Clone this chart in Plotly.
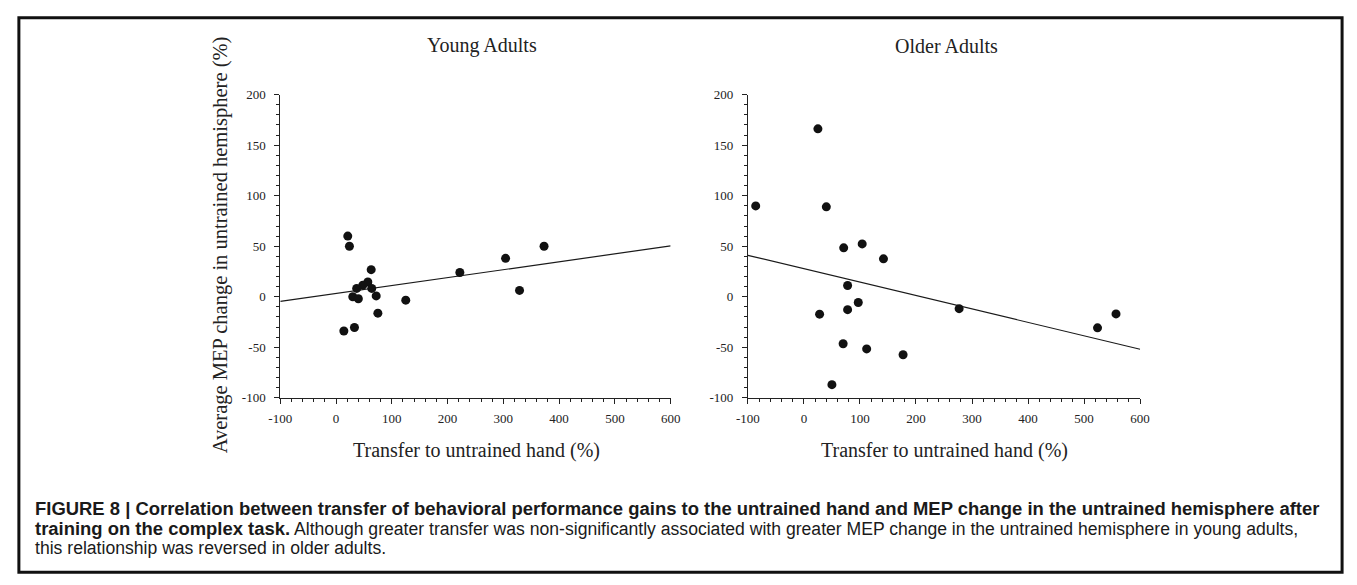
import plotly.graph_objects as go

W, H = 1357, 585

# ---------------- data ----------------
young_transfer = [21, 24, 63, 57, 48, 37, 64, 30, 40, 72, 125, 75, 33, 14, 222, 304, 329, 373]
young_mep = [60, 50, 26.8, 14.6, 11.4, 8.2, 8.2, 0, -2, 0.8, -3.4, -16.3, -30.5, -34, 24, 38, 6.2, 50]
young_fit_x = [-100, 600]
young_fit_y = [-4.7, 50.3]

older_transfer = [-86, 25, 40, 71, 104, 142, 78, 97, 78, 28, 70, 112, 177, 50, 277, 524, 557]
older_mep = [89.9, 166.2, 89, 48.4, 52.3, 37.5, 11.1, -5.7, -12.8, -17.3, -46.6, -51.7, -57.5, -87.1, -11.8, -30.8, -17]
older_fit_x = [-100, 600]
older_fit_y = [41, -52]

panel_titles = ["Young Adults", "Older Adults"]
x_title = "Transfer to untrained hand (%)"
y_title = "Average MEP change in untrained hemisphere (%)"
x_ticks = [-100, 0, 100, 200, 300, 400, 500, 600]
x_tick_text = ["-100", "0", "100", "200", "300", "400", "500", "600"]
y_ticks = [-100, -50, 0, 50, 100, 150, 200]
y_tick_text = ["-100", "-50", "0", "50", "100", "150", "200"]

B = '<span style="font-size:18.45px"><b>'
E = '</b></span>'
caption_lines = [
    B + "FIGURE 8 | Correlation between transfer of behavioral performance gains to the untrained hand and MEP change in the untrained hemisphere after" + E,
    B + "training on the complex task." + E + " Although greater transfer was non-significantly associated with greater MEP change in the untrained hemisphere in young adults,",
    "this relationship was reversed in older adults.",
]

# ---------------- helpers ----------------
def px(x):
    return x / W

def py(y):
    return 1 - y / H

serif = "Liberation Serif, Times New Roman, serif"
sans = "Liberation Sans, Arial, Helvetica, sans-serif"

fig = go.Figure()

for i, (xs, ys, fx, fy) in enumerate([
    (young_transfer, young_mep, young_fit_x, young_fit_y),
    (older_transfer, older_mep, older_fit_x, older_fit_y),
]):
    xa = "x" if i == 0 else "x2"
    ya = "y" if i == 0 else "y2"
    fig.add_trace(go.Scatter(x=fx, y=fy, mode="lines", line=dict(color="#1a1a1a", width=1.2),
                             xaxis=xa, yaxis=ya, showlegend=False, hoverinfo="skip"))
    fig.add_trace(go.Scatter(x=xs, y=ys, mode="markers",
                             marker=dict(color="#111111", size=9, line=dict(width=0)),
                             xaxis=xa, yaxis=ya, showlegend=False))

axis_common = dict(
    showline=True, linecolor="#222222", linewidth=1,
    ticks="outside", ticklen=5, tickwidth=1, tickcolor="#222222",
    showgrid=False, zeroline=False,
    tickfont=dict(family=serif, size=13, color="#222222"),
    minor=dict(ticks="outside", ticklen=3, tickwidth=1, tickcolor="#222222", showgrid=False),
    fixedrange=True,
)

x_domains = [[px(272.7), px(669.5)], [px(748), px(1146.7)]]
y_domain = [py(401), py(90)]

fig.update_layout(
    width=W, height=H,
    margin=dict(l=0, r=0, t=0, b=0),
    paper_bgcolor="white", plot_bgcolor="white",
    xaxis=dict(domain=x_domains[0], range=[-100, 600], tickvals=x_ticks, ticktext=x_tick_text,
               anchor="y", ticklabelstandoff=4, minor_dtick=20, minor_tick0=0, **axis_common),
    yaxis=dict(domain=y_domain, range=[-100, 200], tickvals=y_ticks, ticktext=y_tick_text,
               anchor="x", ticklabelstandoff=6, minor_dtick=10, minor_tick0=0, **axis_common),
    xaxis2=dict(domain=x_domains[1], range=[-100, 600], tickvals=x_ticks, ticktext=x_tick_text,
                anchor="y2", ticklabelstandoff=4, minor_dtick=20, minor_tick0=0, **axis_common),
    yaxis2=dict(domain=y_domain, range=[-100, 200], tickvals=y_ticks, ticktext=y_tick_text,
                anchor="x2", ticklabelstandoff=6, minor_dtick=10, minor_tick0=0, **axis_common),
)

ann = []
# panel titles
for t, cx in zip(panel_titles, [478, 950]):
    ann.append(dict(text=t, x=px(cx), y=py(40), xref="paper", yref="paper",
                    xanchor="center", yanchor="middle", showarrow=False,
                    font=dict(family=serif, size=20, color="#222222")))
# x titles
for cx in [472, 948]:
    ann.append(dict(text=x_title, x=px(cx), y=py(455), xref="paper", yref="paper",
                    xanchor="center", yanchor="middle", showarrow=False,
                    font=dict(family=serif, size=20, color="#222222")))
# y title
ann.append(dict(text=y_title, x=px(212), y=py(244), xref="paper", yref="paper",
                xanchor="center", yanchor="middle", showarrow=False, textangle=-90,
                font=dict(family=serif, size=20.5, color="#222222")))
# caption
for k, line in enumerate(caption_lines):
    ann.append(dict(text=line, x=px(21), y=py(515 + 20 * k), xref="paper", yref="paper",
                    xanchor="left", yanchor="middle", showarrow=False, align="left",
                    font=dict(family=sans, size=17.6, color="#1a1a1a")))
fig.update_layout(annotations=ann)

# outer frame
fig.add_shape(type="rect", xref="paper", yref="paper",
              x0=px(7), x1=px(1352), y0=py(580), y1=py(11),
              line=dict(color="#111111", width=3), fillcolor="rgba(0,0,0,0)")

fig.write_html("out.html")
